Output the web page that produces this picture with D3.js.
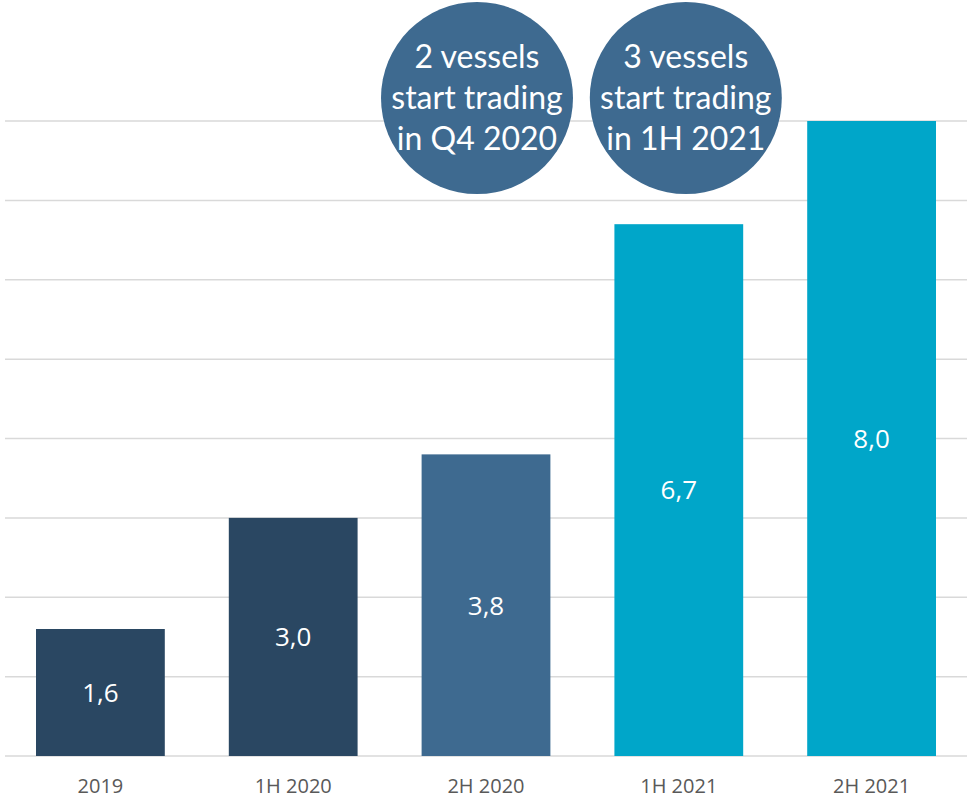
<!DOCTYPE html>
<html>
<head>
<meta charset="utf-8">
<script src="https://cdn.jsdelivr.net/npm/d3@7"></script>
<style>
  html, body { margin: 0; padding: 0; background: #ffffff; }
  svg { display: block; }
</style>
</head>
<body>
<svg id="chart" width="967" height="798"></svg>
<script>
// Periods, values and bar colours
const categories = ["2019", "1H 2020", "2H 2020", "1H 2021", "2H 2021"];
const values = [1.6, 3.0, 3.8, 6.7, 8.0];
const barColors = ["#2a4762", "#2a4762", "#3e6a90", "#00a6c9", "#00a6c9"];
const gridTicks = [0, 1, 2, 3, 4, 5, 6, 7, 8];

// Callout bubbles anchored between periods
const callouts = [
  { at: "2H 2020", shift: -9, lines: ["2 vessels", "start trading", "in Q4 2020"] },
  { at: "1H 2021", shift: 7, lines: ["3 vessels", "start trading", "in 1H 2021"] }
];

const svg = d3.select("#chart");
const W = 967, H = 798;
const margin = { left: 4, right: -1, top: 121, bottom: 42 };

const x = d3.scaleBand()
  .domain(categories)
  .range([margin.left, W - margin.right])
  .paddingInner(0.332)
  .paddingOuter(0.166);

const y = d3.scaleLinear()
  .domain([0, 8])
  .range([H - margin.bottom, margin.top]);

// Horizontal gridlines
svg.append("g")
  .selectAll("line")
  .data(gridTicks)
  .join("line")
  .attr("x1", margin.left + 1)
  .attr("x2", W)
  .attr("y1", d => y(d))
  .attr("y2", d => y(d))
  .attr("stroke", "#d9d9d9")
  .attr("stroke-width", 1.5);

// Bars
const data = categories.map((c, i) => ({ c, v: values[i], color: barColors[i] }));
svg.append("g")
  .selectAll("rect")
  .data(data)
  .join("rect")
  .attr("x", d => x(d.c))
  .attr("width", x.bandwidth())
  .attr("y", d => y(d.v))
  .attr("height", d => y(0) - y(d.v))
  .attr("fill", d => d.color);

// Value labels, centred inside each bar
const fmt = v => d3.format(".1f")(v).replace(".", ",");
svg.append("g")
  .selectAll("text")
  .data(data)
  .join("text")
  .attr("x", d => x(d.c) + x.bandwidth() / 2)
  .attr("y", d => (y(d.v) + y(0)) / 2)
  .attr("dy", "0.36em")
  .attr("text-anchor", "middle")
  .attr("fill", "#ffffff")
  .style("font-family", "'Open Sans', sans-serif")
  .style("font-size", "26px")
  .text(d => fmt(d.v));

// Category axis
const xAxis = svg.append("g")
  .attr("transform", `translate(0,${y(0)})`)
  .call(d3.axisBottom(x).tickSize(0).tickPadding(23));
xAxis.select(".domain").remove();
xAxis.selectAll("text")
  .attr("fill", "#595959")
  .style("font-family", "'Open Sans', sans-serif")
  .style("font-size", "20px");

// Callout bubbles
const r = 96;
const bubbles = svg.append("g")
  .selectAll("g")
  .data(callouts)
  .join("g")
  .attr("transform", d => `translate(${x(d.at) + x.bandwidth() / 2 + d.shift},${98})`);

bubbles.append("circle")
  .attr("r", r)
  .attr("fill", "#3e6a90");

bubbles.each(function (d) {
  const t = d3.select(this).append("text")
    .attr("text-anchor", "middle")
    .attr("fill", "#ffffff")
    .style("font-family", "Lato, sans-serif")
    .style("font-size", "32px");
  d.lines.forEach((line, i) => {
    t.append("tspan")
      .attr("x", 0)
      .attr("y", (i - 1) * 41)
      .attr("dy", "0.35em")
      .text(line);
  });
});
</script>
</body>
</html>
